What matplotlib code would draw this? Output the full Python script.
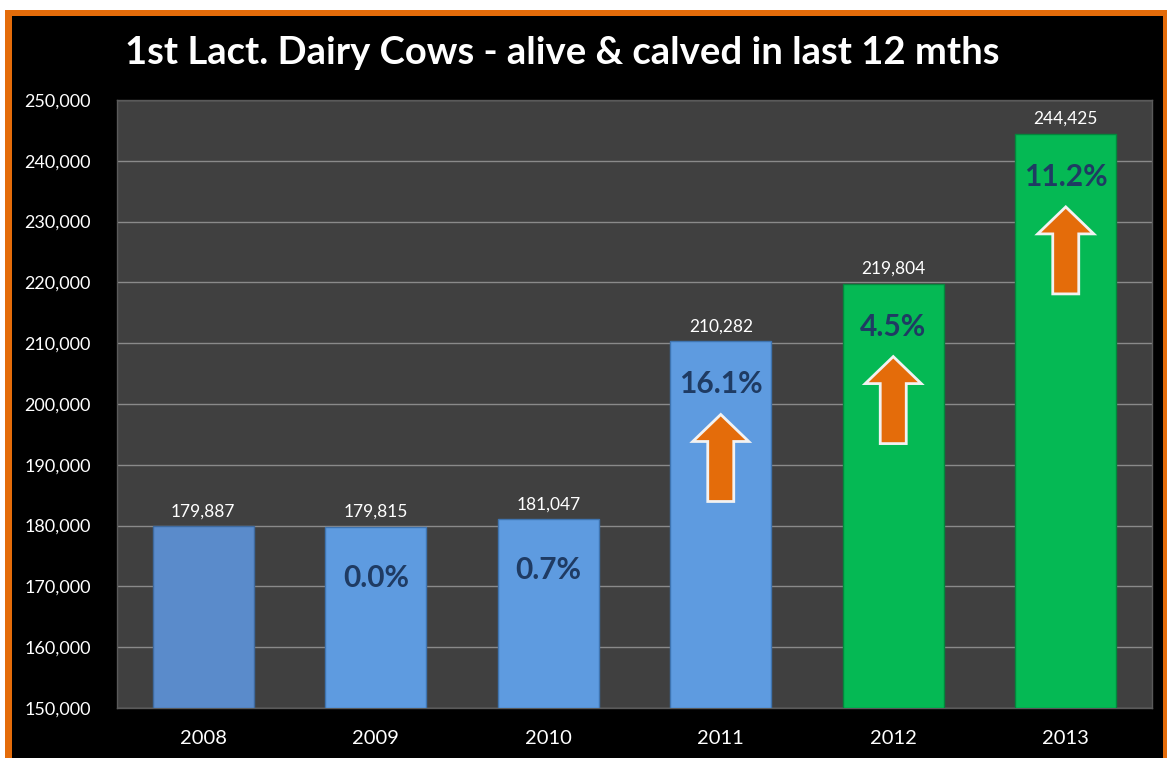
import matplotlib.pyplot as plt
from matplotlib.patches import Rectangle, FancyArrow

# data
years = ['2008', '2009', '2010', '2011', '2012', '2013']
cows = [179887, 179815, 181047, 210282, 219804, 244425]
pct_change = ['', '0.0%', '0.7%', '16.1%', '4.5%', '11.2%']
rising = [False, False, False, True, True, True]
bar_colors = ['#5A8BCB', '#5E9BE0', '#5E9BE0', '#5E9BE0', '#05B954', '#05B954']
edge_colors = ['#3F6A9E', '#3F74B0', '#3F74B0', '#3F74B0', '#03873C', '#03873C']
y_ticks = list(range(150000, 250001, 10000))

W, H = 1167, 758
fig = plt.figure(figsize=(W / 100, H / 100), dpi=100, facecolor='white')

# orange frame and black panel
fig.patches.append(Rectangle((5 / W, 0), 1 - 5 / W, 748 / H, transform=fig.transFigure,
                             facecolor='#E46C0A', edgecolor='none', zorder=-2))
fig.patches.append(Rectangle((12 / W, 0), 1151 / W, 742 / H, transform=fig.transFigure,
                             facecolor='black', edgecolor='none', zorder=-1))

ax_l, ax_r, ax_t, ax_b = 117, 1152, 100, 708
ax = fig.add_axes([ax_l / W, (H - ax_b) / H, (ax_r - ax_l) / W, (ax_b - ax_t) / H])
ax.set_facecolor('#404040')

x = range(len(years))
ax.bar(x, [c - 150000 for c in cows], bottom=150000, width=0.585,
       color=bar_colors, edgecolor=edge_colors, linewidth=1, zorder=3)

ax.set_xlim(-0.5, len(years) - 0.5)
ax.set_ylim(150000, 250000)
ax.set_yticks(y_ticks)
ax.set_yticklabels([f'{v:,}' for v in y_ticks])
ax.set_xticks(list(x))
ax.set_xticklabels(years)
ax.grid(axis='y', color='#8A8A8A', linewidth=1, zorder=1)
ax.set_axisbelow(True)
ax.tick_params(length=0, colors='white')
ax.tick_params(axis='y', labelsize=13, pad=19)
ax.tick_params(axis='x', labelsize=14.5, pad=16)
for lbl in ax.get_xticklabels() + ax.get_yticklabels():
    lbl.set_fontfamily('Lato')
for sp in ax.spines.values():
    sp.set_color('#5A5A5A')
    sp.set_linewidth(1)

# pixel -> data conversions
dy_px = 100000 / (ax_b - ax_t)
dx_px = len(years) / (ax_r - ax_l)

for i, (val, pct, up) in enumerate(zip(cows, pct_change, rising)):
    ax.annotate(f'{val:,}', (i, val), xytext=(0, 5), textcoords='offset points',
                ha='center', va='bottom', color='white', fontsize=12.5, family='Lato',
                zorder=5)
    if pct:
        off = 43 if up else 51
        ax.annotate(pct, (i, val), xytext=(0, -off * 0.72), textcoords='offset points',
                    ha='center', va='center', color='#1F3B63', fontsize=21.5,
                    fontweight='bold', family='Lato', zorder=5)
    if up:
        tip = val - 73 * dy_px
        length = 87 * dy_px
        arr = FancyArrow(i, tip - length, 0, length, width=26 * dx_px,
                         head_width=56 * dx_px, head_length=27 * dy_px,
                         length_includes_head=True, facecolor='#E46C0A',
                         edgecolor='#F2F2F2', linewidth=2, zorder=4)
        ax.add_patch(arr)

fig.text(562 / W, 1 - 53 / H, '1st Lact. Dairy Cows - alive & calved in last 12 mths',
         ha='center', va='center', color='white', fontsize=27.5, fontweight='bold',
         family='Lato')

fig.savefig('out.png', dpi=100, facecolor=fig.get_facecolor())
